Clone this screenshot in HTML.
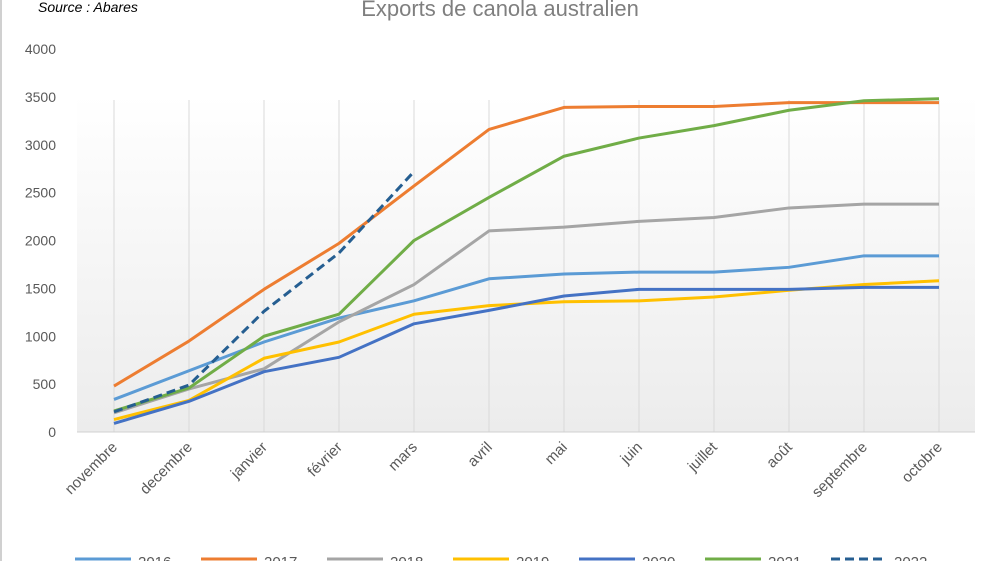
<!DOCTYPE html>
<html><head><meta charset="utf-8"><style>
html,body{margin:0;padding:0;background:#fff;width:1000px;height:561px;overflow:hidden;font-family:"Liberation Sans",sans-serif}
</style></head><body>
<svg id="chart" width="1000" height="561" xmlns="http://www.w3.org/2000/svg">
<defs><linearGradient id="bg" x1="0" y1="0" x2="0" y2="1"><stop offset="0" stop-color="#ffffff"/><stop offset="1" stop-color="#ececec"/></linearGradient></defs>
<rect x="0" y="0" width="2" height="561" fill="#d0d0d0"/>
<rect x="77" y="95" width="898" height="337" fill="url(#bg)"/>
<text x="38" y="12" font-size="14" font-style="italic" fill="#000">Source : Abares</text>
<text x="500" y="16" font-size="22" fill="#7f7f7f" text-anchor="middle">Exports de canola australien</text>
<g id="grid"></g><g id="yaxis"></g><g id="xaxis"></g><g id="series"></g><g id="legend"></g>
</svg>
<script>
const categories=["novembre","decembre","janvier","février","mars","avril","mai","juin","juillet","août","septembre","octobre"];
const yTicks=[0,500,1000,1500,2000,2500,3000,3500,4000];
const years=["2016","2017","2018","2019","2020","2021","2022"];
const s2016=[340,640,940,1190,1370,1600,1650,1670,1670,1720,1840,1840];
const s2017=[480,950,1490,1970,2570,3160,3390,3400,3400,3440,3440,3440];
const s2018=[200,450,660,1150,1540,2100,2140,2200,2240,2340,2380,2380];
const s2019=[130,330,770,940,1230,1320,1360,1370,1410,1480,1540,1580];
const s2020=[90,320,630,780,1130,1270,1420,1490,1490,1490,1510,1510];
const s2021=[220,460,1000,1230,2000,2450,2880,3070,3200,3360,3460,3480];
const s2022=[210,490,1260,1870,2720];
const seriesData=[s2016,s2017,s2018,s2019,s2020,s2021,s2022];
const colors=["#5b9bd5","#ed7d31","#a5a5a5","#ffc000","#4472c4","#70ad47","#255e91"];
const NS="http://www.w3.org/2000/svg";
const x=i=>114+i*75.0;
const y=v=>432-v*(383/4000);
function mk(tag,attrs,parent){const e=document.createElementNS(NS,tag);for(const k in attrs)e.setAttribute(k,attrs[k]);document.getElementById(parent).appendChild(e);return e;}
categories.forEach((c,i)=>{
 const g=mk("line",{x1:x(i),x2:x(i),y1:100,y2:432,stroke:"#d9d9d9","stroke-width":1},"grid");
 
 
 const t=mk("text",{x:x(i)+4,y:448,"font-size":15,fill:"#595959","text-anchor":"end",transform:`rotate(-45 ${x(i)+4} 448)`},"xaxis");
 t.textContent=c;
 
 
});
const base=mk("line",{x1:77,x2:975,y1:432,y2:432,stroke:"#d0d0d0","stroke-width":1},"grid");


yTicks.forEach(v=>{
 const t=mk("text",{x:56,y:y(v)+5,"font-size":14,fill:"#595959","text-anchor":"end"},"yaxis");
 t.textContent=v;
 
 
});
seriesData.forEach((d,si)=>{
 const pts=d.map((v,i)=>x(i)+","+y(v)).join(" ");
 const p=mk("polyline",{points:pts,fill:"none",stroke:colors[si],"stroke-width":3,"stroke-linejoin":"round"},"series");
 if(si===6)p.setAttribute("stroke-dasharray","9 5");
 
 
 const lx=75+si*126;
 const l=mk("line",{x1:lx,x2:lx+56,y1:559,y2:559,stroke:colors[si],"stroke-width":3},"legend");
 if(si===6)l.setAttribute("stroke-dasharray","9 5");
 
 
 const t=mk("text",{x:lx+63,y:567,"font-size":15,fill:"#595959"},"legend");
 t.textContent=years[si];
 
 
});
</script>
</body></html>
